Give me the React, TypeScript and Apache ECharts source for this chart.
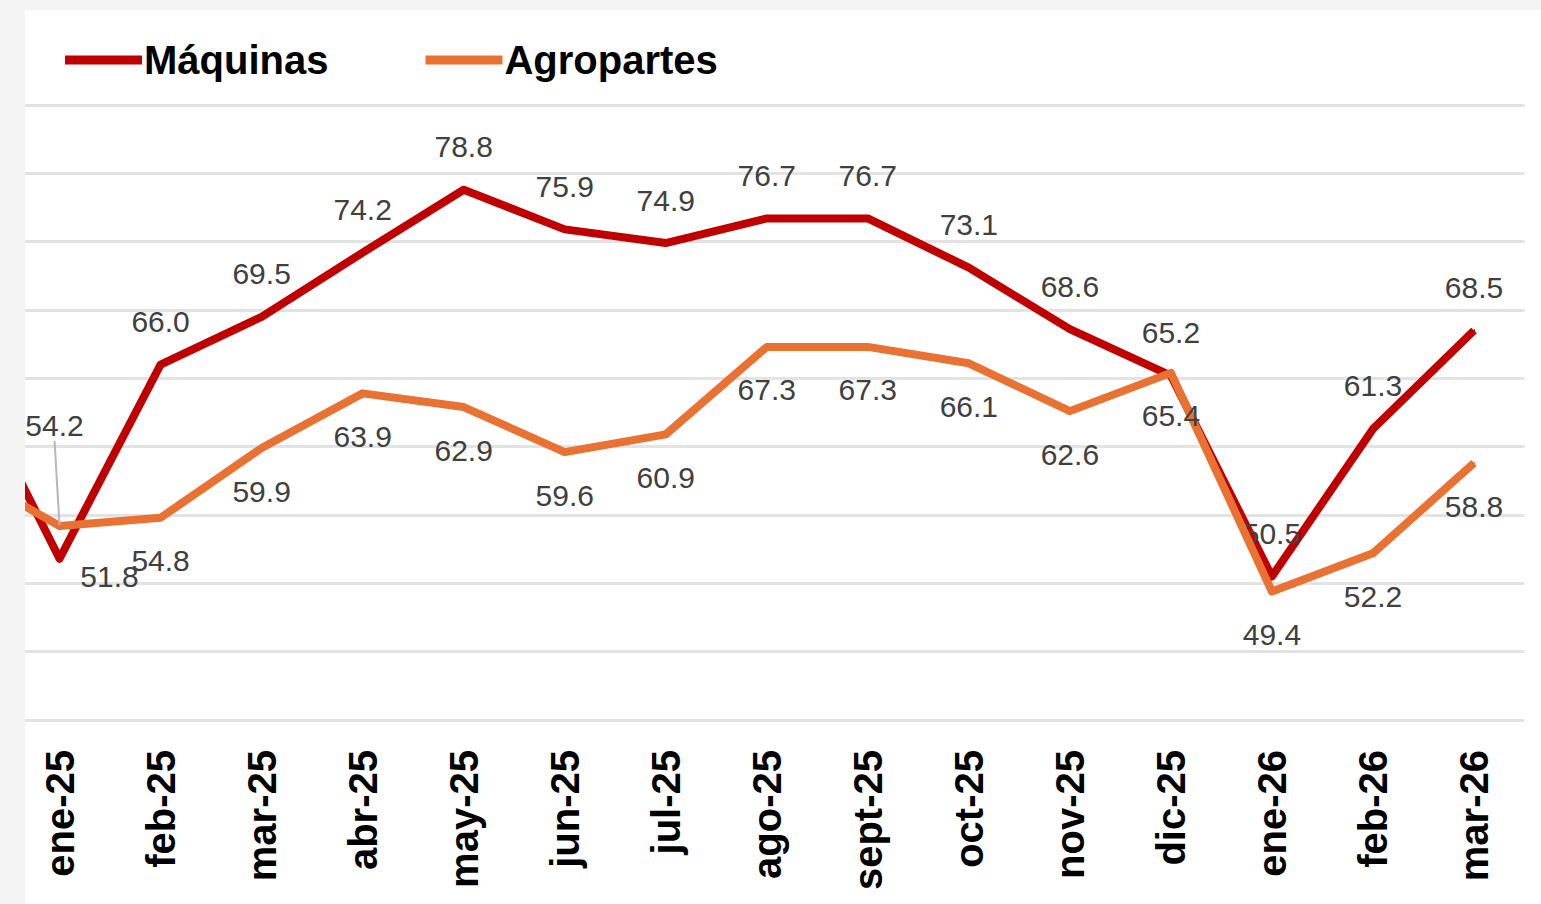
import React, { useEffect, useRef } from "react";
import * as echarts from "echarts";

const categories = [
  "dic-24", "ene-25", "feb-25", "mar-25", "abr-25", "may-25", "jun-25", "jul-25",
  "ago-25", "sept-25", "oct-25", "nov-25", "dic-25", "ene-26", "feb-26", "mar-26",
];
const maquinas = [66.5, 51.8, 66.0, 69.5, 74.2, 78.8, 75.9, 74.9, 76.7, 76.7, 73.1, 68.6, 65.2, 50.5, 61.3, 68.5];
const agropartes = [58.4, 54.2, 54.8, 59.9, 63.9, 62.9, 59.6, 60.9, 67.3, 67.3, 66.1, 62.6, 65.4, 49.4, 52.2, 58.8];
const seriesNames = ["Máquinas", "Agropartes"];
const seriesColors = ["#C00000", "#E97132"];

const SHIFT = 92;
const labelFont = { fontFamily: "'Liberation Sans', Arial, sans-serif", fontSize: 30, color: "#404040" };

export default function App() {
  const ref = useRef<HTMLDivElement>(null);
  useEffect(() => {
    if (!ref.current) return;
    const chart = echarts.init(ref.current, null, { renderer: "svg" });
    const maqData = maquinas.map((v, i) => {
      if (i === 0) return { value: v, label: { show: false } };
      if (i === 1) return { value: v, label: { position: "bottom", offset: [50, -25] } };
      return v;
    });
    const agroData = agropartes.map((v, i) => {
      if (i === 0) return { value: v, label: { show: false } };
      if (i === 1)
        return {
          value: v,
          label: { position: "top" },
          labelLine: { show: true, lineStyle: { color: "#b8b8b8", width: 2 } },
        };
      return v;
    });
    chart.setOption({
      animation: false,
      backgroundColor: "#ffffff",
      textStyle: { fontFamily: "'Liberation Sans', Arial, sans-serif" },
      legend: {
        left: 60 + SHIFT,
        top: 35,
        itemWidth: 77,
        itemHeight: 9,
        itemGap: 97,
        icon: "rect",
        textStyle: { fontSize: 40, fontWeight: "bold", color: "#000000", padding: [0, 0, 0, -3] },
        data: seriesNames,
      },
      grid: { left: 0, right: 16.5, top: 105, bottom: 184, containLabel: false },
      xAxis: {
        type: "category",
        data: categories,
        boundaryGap: true,
        axisLine: { show: false },
        axisTick: { show: false },
        axisLabel: {
          rotate: 90,
          margin: 30,
          fontSize: 40,
          fontWeight: "bold",
          color: "#000000",
          interval: 0,
          formatter: (v: string, i: number) => (i === 0 ? "" : v),
        },
      },
      yAxis: {
        type: "value",
        min: 40,
        max: 85,
        interval: 5,
        axisLabel: { show: false },
        axisLine: { show: false },
        axisTick: { show: false },
        splitLine: { lineStyle: { color: "#e3e3e3", width: 3 } },
      },
      series: [
        {
          name: seriesNames[0],
          type: "line",
          data: maqData,
          color: seriesColors[0],
          symbol: "circle",
          symbolSize: 2,
          lineStyle: { width: 8, color: seriesColors[0], join: "round" },
          itemStyle: { color: seriesColors[0] },
          label: { show: true, position: "top", distance: 27, formatter: (p: any) => Number(p.value).toFixed(1), ...labelFont },
          z: 3,
        },
        {
          name: seriesNames[1],
          type: "line",
          data: agroData,
          color: seriesColors[1],
          symbol: "circle",
          symbolSize: 2,
          lineStyle: { width: 8, color: seriesColors[1], join: "round" },
          itemStyle: { color: seriesColors[1] },
          label: { show: true, position: "bottom", distance: 27, formatter: (p: any) => Number(p.value).toFixed(1), ...labelFont },
          labelLayout: (params: any) => (params.dataIndex === 1 ? { dy: -57, dx: -5 } : {}),
          z: 4,
        },
      ],
      graphic: [
        { type: "rect", left: SHIFT, top: 0, z: 100, shape: { width: 25, height: 904 }, style: { fill: "#f4f4f4" } },
        { type: "rect", left: 0, top: 0, z: 100, shape: { width: 1541 + SHIFT, height: 10 }, style: { fill: "#f4f4f4" } },
      ],
    });
    return () => chart.dispose();
  }, []);
  return (
    <div style={{ position: "fixed", left: 0, top: 0, width: 1541, height: 904, overflow: "hidden", background: "#f4f4f4" }}>
      <div
        ref={ref}
        style={{ position: "absolute", left: -SHIFT, top: 0, width: 1541 + SHIFT, height: 904 }}
      />
    </div>
  );
}
